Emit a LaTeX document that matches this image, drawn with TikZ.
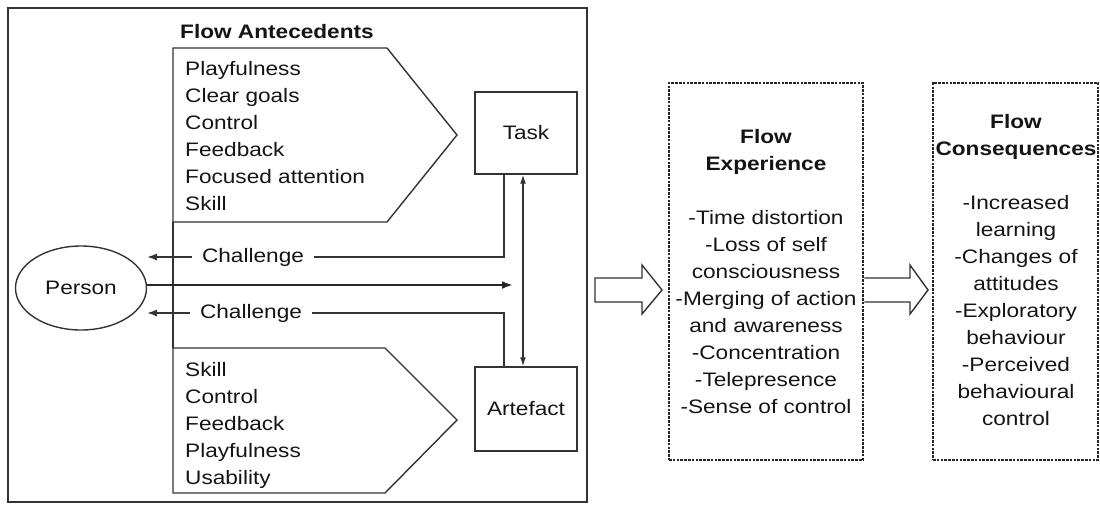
\documentclass[tikz,border=0pt]{standalone}
\usepackage{fontspec}
\setmainfont[FakeStretch=1.16]{Liberation Sans}
\usetikzlibrary{arrows.meta,shapes.geometric}
\begin{document}
\begin{tikzpicture}[x=1pt,y=-1pt,
  txt/.style={font=\fontsize{19.5}{27}\selectfont, text=black!92},
  ln/.style={draw=black!80, line width=1.4pt},
  boxn/.style={ln, rectangle, txt},
  tipa/.style={-{Latex[length=10pt,width=7pt]}},
  dbl/.style={{Latex[length=9pt,width=6pt]}-{Latex[length=9pt,width=6pt]}},
  dotbox/.style={draw=black!85, line width=2.6pt, dash pattern=on 2.6pt off 1.2pt, rectangle, inner sep=0pt},
  hollow/.style={draw=black!80, line width=1.4pt, fill=white, line join=miter},
  lbl/.style={txt, fill=white, inner xsep=10pt, inner ysep=1pt}
]
\useasboundingbox (0,0) rectangle (1100,504);
% outer frame
\draw[ln] (8,8) rectangle (587,502);
\node[txt, anchor=west, inner sep=0pt, font=\fontsize{19.5}{27}\selectfont\bfseries] (fa) at (180,32) {Flow Antecedents};
% pentagons
\draw[ln] (173,48) -- (387,48) -- (457,135) -- (387,222) -- (173,222) -- cycle;
\draw[ln] (173,348) -- (385,348) -- (457,420) -- (385,493) -- (173,493) -- cycle;
\draw[ln] (173,222) -- (173,348);
\node[txt, anchor=north west, inner sep=0pt, align=left] (la) at (185,61)
  {Playfulness\\Clear goals\\Control\\Feedback\\Focused attention\\Skill};
\node[txt, anchor=north west, inner sep=0pt, align=left] (lb) at (185,362)
  {Skill\\Control\\Feedback\\Playfulness\\Usability};
% task / artefact
\node[boxn, minimum width=102pt, minimum height=82pt] (task) at (526,133) {Task};
\node[boxn, minimum width=102pt, minimum height=84pt] (art) at (526,409) {Artefact};
% person
\node[ln, ellipse, txt, minimum width=131pt, minimum height=84pt, inner sep=0pt] (person) at (81,288) {Person};
\coordinate (c1) at (147,257);
\coordinate (c2) at (147,313);
\coordinate (mid) at (513,285);
\draw[ln, tipa] ([xshift=-22pt]task.south) |- (c1);
\node[lbl] (ch1) at (253,257) {Challenge};
\draw[ln, tipa] ([xshift=-22pt]art.north) |- (c2);
\node[lbl] (ch2) at (251,313) {Challenge};
\draw[draw=black!85, line width=2.4pt, -{Latex[length=11pt,width=8pt]}] (person.east |- mid) -- (mid);
\draw[ln, dbl] ([xshift=-3pt]task.south) -- ([xshift=-3pt]art.north);
% hollow arrows
\draw[hollow] (595,278) -- (642,278) -- (642,265) -- (662,290) -- (642,314) -- (642,302) -- (595,302) -- cycle;
% experience box
\node[dotbox, minimum width=194pt, minimum height=377pt] (exp) at (766,271.5) {};
\node[txt, align=center, inner sep=0pt] (expt) at (exp.center)
  {\textbf{Flow}\\\textbf{Experience}\\[27pt]-Time distortion\\-Loss of self\\consciousness\\-Merging of action\\and awareness\\-Concentration\\-Telepresence\\-Sense of control};
\draw[hollow] (exp.east |- 0,278) -- (910,278) -- (910,265) -- (928,290) -- (910,314) -- (910,302) -- (exp.east |- 0,302);
% consequences box
\node[dotbox, minimum width=165pt, minimum height=377pt] (con) at (1015.5,271.5) {};
\node[txt, align=center, inner sep=0pt] (cont) at (1016,270)
  {\textbf{Flow}\\\textbf{Consequences}\\[27pt]-Increased\\learning\\-Changes of\\attitudes\\-Exploratory\\behaviour\\-Perceived\\behavioural\\control};
\end{tikzpicture}
\end{document}
